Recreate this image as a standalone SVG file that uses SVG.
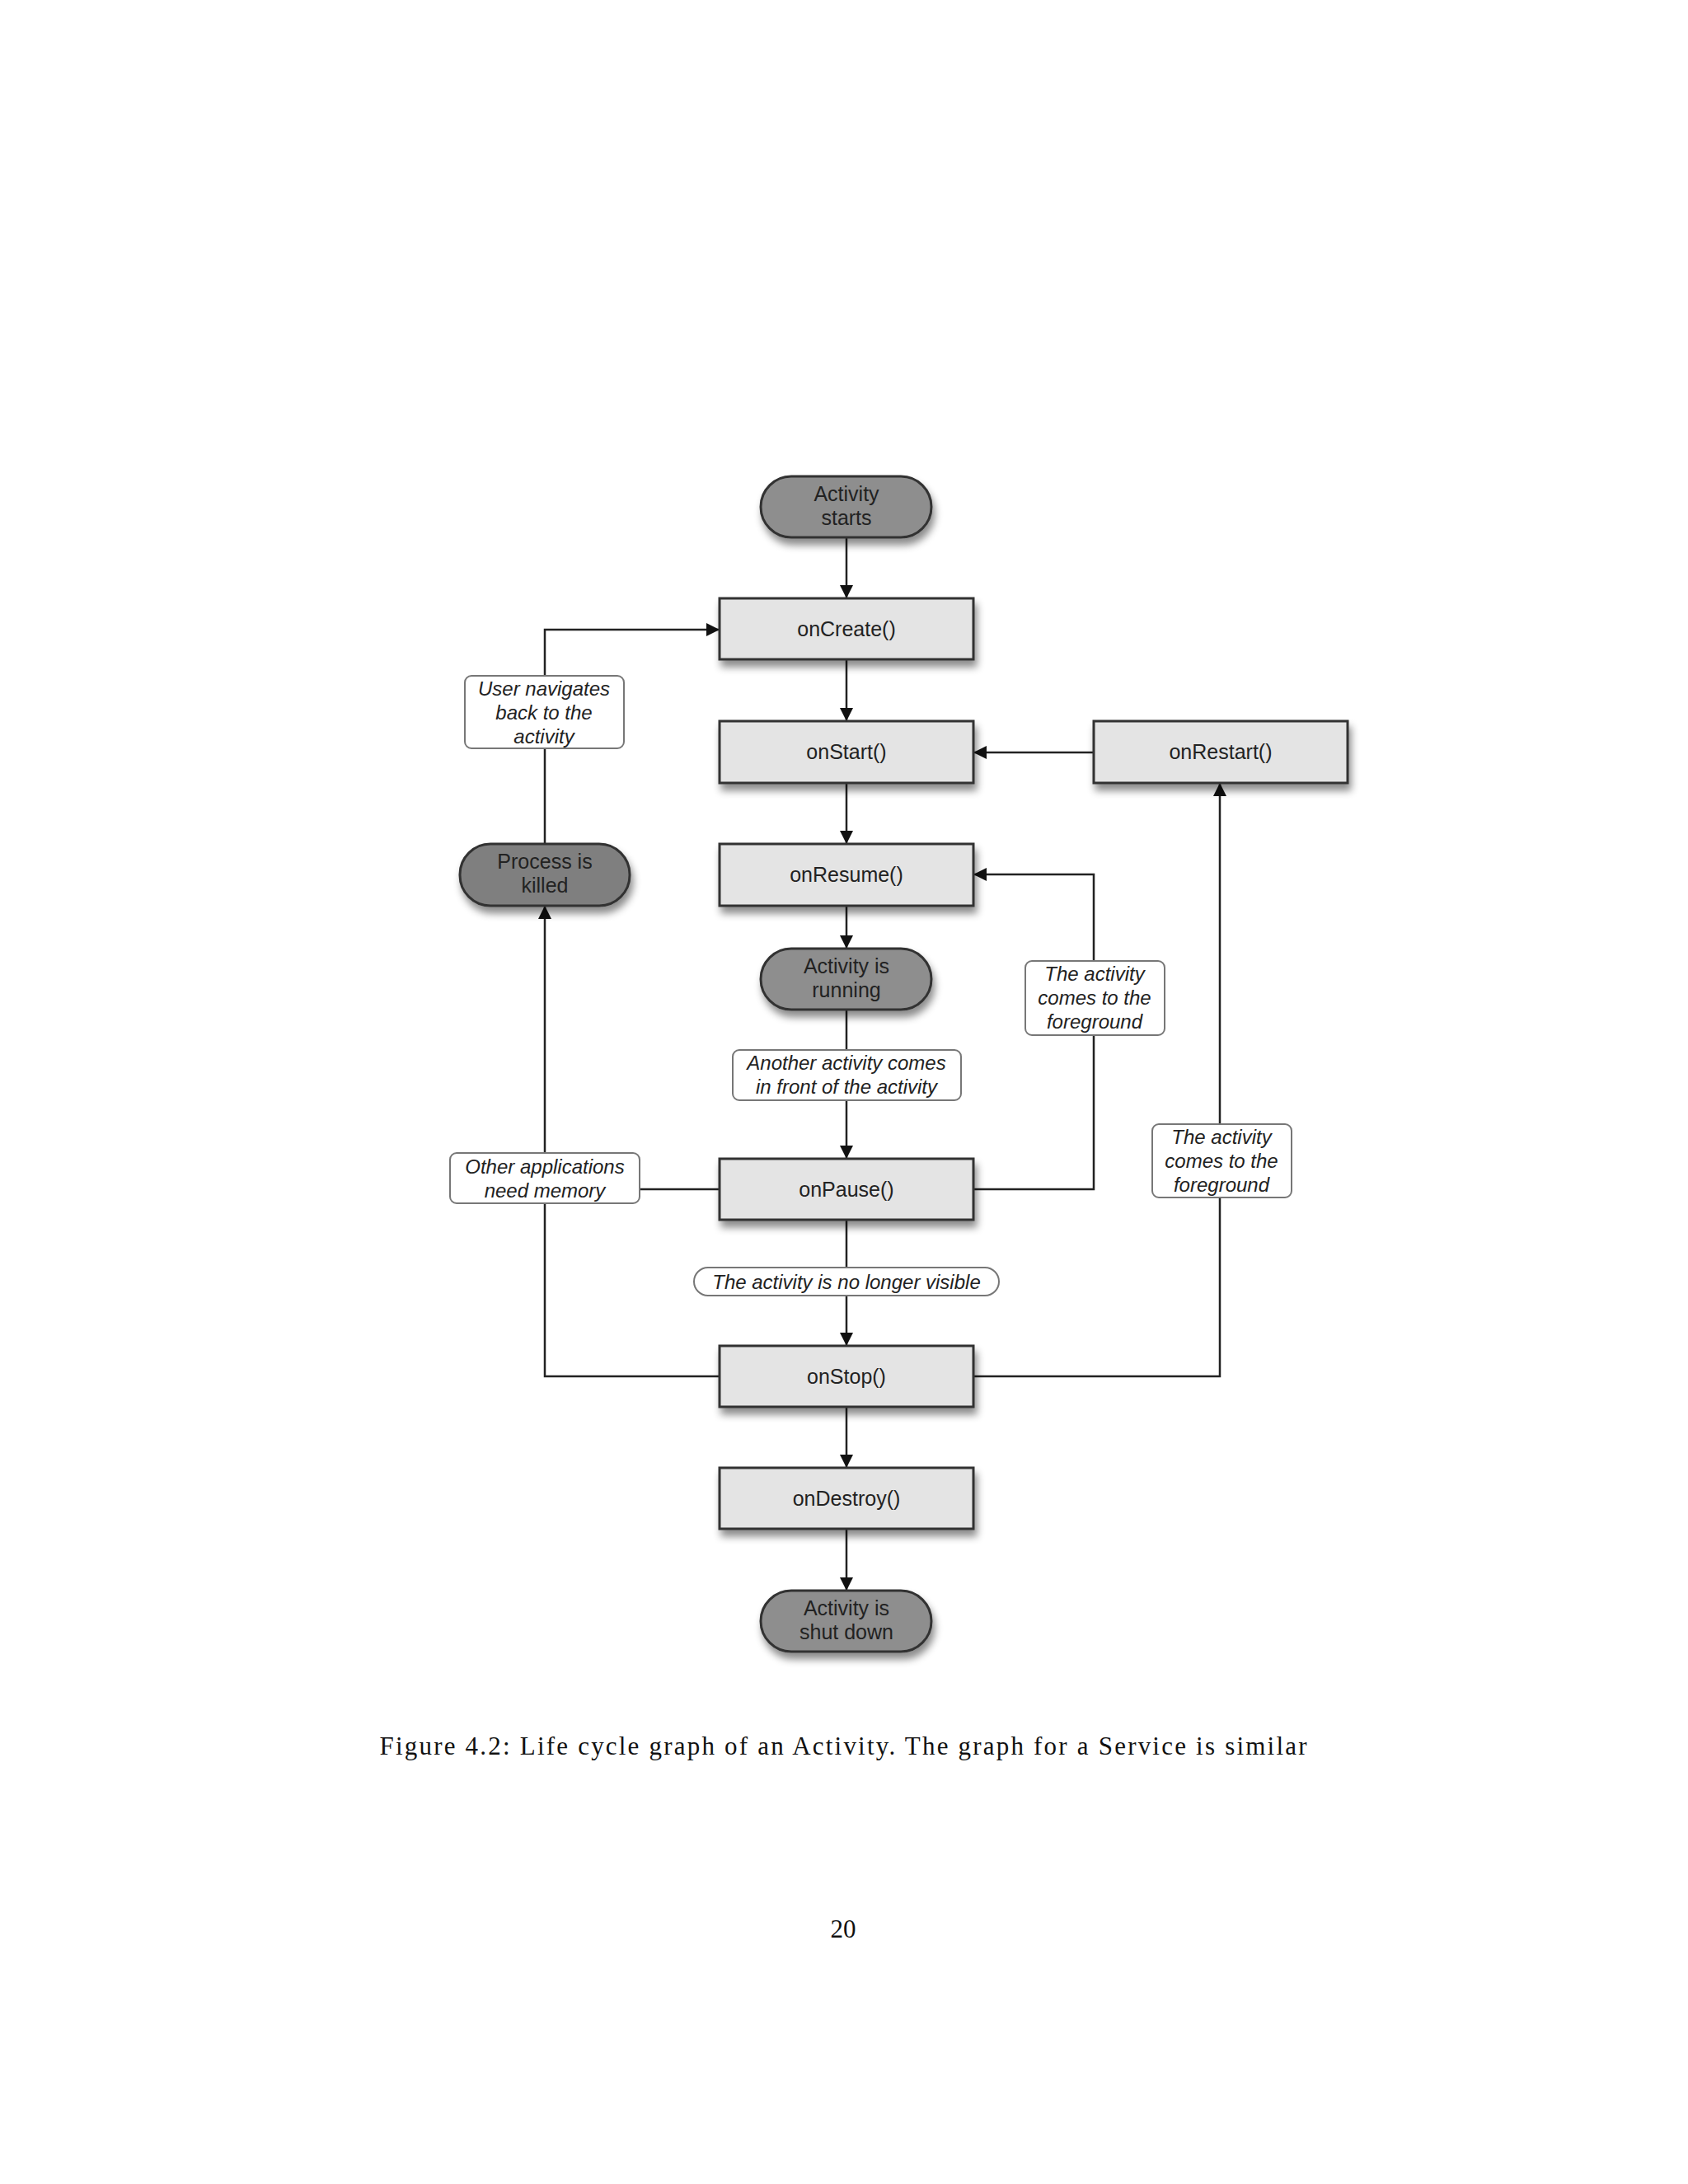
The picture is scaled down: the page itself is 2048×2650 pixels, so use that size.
<svg xmlns="http://www.w3.org/2000/svg" width="2048" height="2650" viewBox="0 0 2048 2650">
<defs>
<filter id="sh" x="-20%" y="-30%" width="140%" height="170%"><feDropShadow dx="3" dy="8" stdDeviation="5" flood-color="#000" flood-opacity="0.45"/></filter>
<marker id="ah" viewBox="0 0 10 10" refX="10" refY="5" markerWidth="16" markerHeight="16" markerUnits="userSpaceOnUse" orient="auto"><path d="M0,0 L10,5 L0,10 z" fill="#111"/></marker>
</defs>
<style>
.box{fill:#e4e4e4;stroke:#333;stroke-width:3;filter:url(#sh)}
.pill{fill:#8e8e8e;stroke:#333;stroke-width:3;filter:url(#sh)}
.t{font-family:"Liberation Sans",Arial,sans-serif;font-size:25px;fill:#222;text-anchor:middle}
.lab{fill:#fff;stroke:#777;stroke-width:2}
.it{font-family:"Liberation Sans",Arial,sans-serif;font-size:24px;font-style:italic;fill:#222;text-anchor:middle}
.c{fill:none;stroke:#222;stroke-width:2.5}
.cap{font-family:"Liberation Serif","Times New Roman",serif;font-size:31px;fill:#111;text-anchor:middle}
</style>
<rect width="2048" height="2650" fill="#fff"/>
<g id="connectors">
<path class="c" d="M1027,652 V726" marker-end="url(#ah)"/>
<path class="c" d="M1027,800 V875" marker-end="url(#ah)"/>
<path class="c" d="M1027,950 V1024" marker-end="url(#ah)"/>
<path class="c" d="M1027,1099 V1151" marker-end="url(#ah)"/>
<path class="c" d="M1027,1225 V1406" marker-end="url(#ah)"/>
<path class="c" d="M1027,1480 V1633" marker-end="url(#ah)"/>
<path class="c" d="M1027,1707 V1781" marker-end="url(#ah)"/>
<path class="c" d="M1027,1855 V1930" marker-end="url(#ah)"/>
<path class="c" d="M1327,913 H1181" marker-end="url(#ah)"/>
<path class="c" d="M1181,1443 H1327 V1061 H1181" marker-end="url(#ah)"/>
<path class="c" d="M1181,1670 H1480 V950" marker-end="url(#ah)"/>
<path class="c" d="M873,1443 H661"/>
<path class="c" d="M873,1670 H661 V1099" marker-end="url(#ah)"/>
<path class="c" d="M661,1024 V764 H873" marker-end="url(#ah)"/>
</g>
<g id="lbl-user"><rect class="lab" x="564" y="820" width="193" height="88" rx="8"/><text class="it" x="660" y="844">User navigates</text><text class="it" x="660" y="873">back to the</text><text class="it" x="660" y="902">activity</text></g>
<g id="lbl-another"><rect class="lab" x="889" y="1274" width="277" height="61" rx="8"/><text class="it" x="1027" y="1298">Another activity comes</text><text class="it" x="1027" y="1327">in front of the activity</text></g>
<g id="lbl-fg1"><rect class="lab" x="1244" y="1166" width="169" height="90" rx="8"/><text class="it" x="1328" y="1190">The activity</text><text class="it" x="1328" y="1219">comes to the</text><text class="it" x="1328" y="1248">foreground</text></g>
<g id="lbl-fg2"><rect class="lab" x="1398" y="1364" width="169" height="89" rx="8"/><text class="it" x="1482" y="1388">The activity</text><text class="it" x="1482" y="1417">comes to the</text><text class="it" x="1482" y="1446">foreground</text></g>
<g id="lbl-other"><rect class="lab" x="546" y="1399" width="230" height="61" rx="8"/><text class="it" x="661" y="1424">Other applications</text><text class="it" x="661" y="1453">need memory</text></g>
<g id="lbl-visible"><rect class="lab" x="842" y="1538" width="370" height="34" rx="17"/><text class="it" x="1027" y="1564">The activity is no longer visible</text></g>
<g id="start"><rect class="pill" x="923" y="578" width="207" height="74" rx="37"/><text class="t" x="1027" y="608">Activity</text><text class="t" x="1027" y="637">starts</text></g>
<g id="onCreate"><rect class="box" x="873" y="726" width="308" height="74"/><text class="t" x="1027" y="772">onCreate()</text></g>
<g id="onStart"><rect class="box" x="873" y="875" width="308" height="75"/><text class="t" x="1027" y="921">onStart()</text></g>
<g id="onRestart"><rect class="box" x="1327" y="875" width="308" height="75"/><text class="t" x="1481" y="921">onRestart()</text></g>
<g id="onResume"><rect class="box" x="873" y="1024" width="308" height="75"/><text class="t" x="1027" y="1070">onResume()</text></g>
<g id="killed"><rect class="pill" x="558" y="1024" width="206" height="75" rx="37" style="fill:#7f7f7f"/><text class="t" x="661" y="1054">Process is</text><text class="t" x="661" y="1083">killed</text></g>
<g id="running"><rect class="pill" x="923" y="1151" width="207" height="74" rx="37"/><text class="t" x="1027" y="1181">Activity is</text><text class="t" x="1027" y="1210">running</text></g>
<g id="onPause"><rect class="box" x="873" y="1406" width="308" height="74"/><text class="t" x="1027" y="1452">onPause()</text></g>
<g id="onStop"><rect class="box" x="873" y="1633" width="308" height="74"/><text class="t" x="1027" y="1679">onStop()</text></g>
<g id="onDestroy"><rect class="box" x="873" y="1781" width="308" height="74"/><text class="t" x="1027" y="1827">onDestroy()</text></g>
<g id="shutdown"><rect class="pill" x="923" y="1930" width="207" height="74" rx="37"/><text class="t" x="1027" y="1960">Activity is</text><text class="t" x="1027" y="1989">shut down</text></g>
<text class="cap" x="1023" y="2129" textLength="1125" lengthAdjust="spacing">Figure 4.2: Life cycle graph of an Activity. The graph for a Service is similar</text>
<text class="cap" x="1023" y="2351">20</text>
</svg>
